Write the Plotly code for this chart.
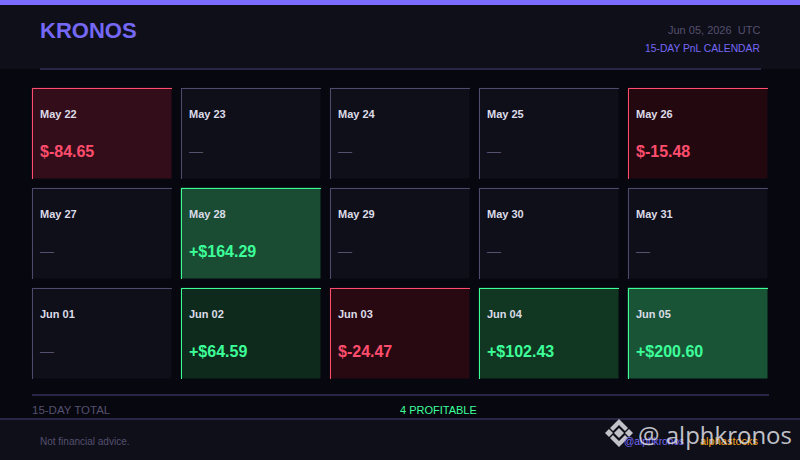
import plotly.graph_objects as go

# calendar grid
dates = [
    ["May 22", "May 23", "May 24", "May 25", "May 26"],
    ["May 27", "May 28", "May 29", "May 30", "May 31"],
    ["Jun 01", "Jun 02", "Jun 03", "Jun 04", "Jun 05"],
]
# 0 means no trades that day
pnl = [
    [-84.65, 0, 0, 0, -15.48],
    [0, 164.29, 0, 0, 0],
    [0, 64.59, -24.47, 102.43, 200.60],
]
columns = [0, 1, 2, 3, 4]
rows = [0, 1, 2]

BG = "#07070f"
PANEL = "#0f0f1a"
RULE = "#2a2545"
PURPLE = "#7468f5"
GREEN = "#3dff9a"
RED = "#ff4d6d"
MUTED = "#55506e"
FONT = "Liberation Sans"

# cell colour at each value, strongest loss to strongest win
scale_values = [-84.65, -24.47, -15.48, 0, 64.59, 102.43, 164.29, 200.60]
scale_colors = ["#340d1a", "#280912", "#230810", PANEL, "#0e2a1c", "#113621", "#194c33", "#195437"]
zmin, zmax = scale_values[0], scale_values[-1]
colorscale = [[(v - zmin) / (zmax - zmin), c] for v, c in zip(scale_values, scale_colors)]

# pixel layout of the grid
GRID_X0, GRID_Y0 = 27.5, 83.5
STEP_X, STEP_Y = 149, 100
W, H = 800, 460

fig = go.Figure()
fig.add_trace(go.Heatmap(
    x=columns, y=rows, z=pnl, zmin=zmin, zmax=zmax, colorscale=colorscale,
    xgap=9, ygap=9, showscale=False, hoverinfo="skip",
    xaxis="x", yaxis="y",
))

shapes = []


def rect(x0, y0, x1, y1, color, layer="below"):
    shapes.append(dict(type="rect", xref="x2", yref="y2", x0=x0, y0=y0, x1=x1, y1=y1,
                       fillcolor=color, line_width=0, layer=layer))


def poly(points, color):
    path = "M" + " L".join(f"{x},{y}" for x, y in points) + " Z"
    shapes.append(dict(type="path", xref="x2", yref="y2", path=path, fillcolor=color,
                       line_width=0, layer="above"))


rect(0, 0, W, 69, PANEL)
rect(0, 0, W, 5, "#7b6cff")
rect(40, 68, 761, 70, RULE)
rect(32, 394, 769, 396, RULE)
rect(0, 419, W, H, PANEL)
rect(0, 418, W, 420, RULE)

annotations = []


def label(x, y, text, size, color, anchor="left", bold=False, family=FONT):
    annotations.append(dict(
        x=x, y=y, xref="x2", yref="y2", text=f"<b>{text}</b>" if bold else text,
        showarrow=False, xanchor=anchor, yanchor="middle",
        borderpad=0, borderwidth=0,
        font=dict(family=family, size=size, color=color),
    ))


for r in rows:
    for c in columns:
        v = pnl[r][c]
        border = GREEN if v > 0 else RED if v < 0 else "#4f4a6b"
        left = GRID_X0 + c * STEP_X + 4.5
        top = GRID_Y0 + r * STEP_Y + 4.5
        rect(left, top, left + 140, top + 1, border, "above")
        rect(left, top, left + 1, top + 91, border, "above")
        label(left + 8, top + 26, dates[r][c], 11, "#dcdce8", bold=True)
        if v > 0:
            label(left + 8, top + 63.5, f"+${v:.2f}", 16, GREEN, bold=True)
        elif v < 0:
            label(left + 8, top + 63.5, f"$-{abs(v):.2f}", 16, RED, bold=True)
        else:
            label(left + 8, top + 63, "—", 14, MUTED)

label(40, 30, "KRONOS", 22, PURPLE, bold=True)
label(760, 30, "Jun 05, 2026  UTC", 11, MUTED, anchor="right")
label(760, 48, "15-DAY PnL CALENDAR", 10.3, PURPLE, anchor="right")
label(32, 410, "15-DAY TOTAL", 11.5, MUTED)
label(400, 410, "4 PROFITABLE", 11, GREEN)
label(40, 441, "Not financial advice.", 10, MUTED)
label(624, 441, "@alphkronos", 10.2, PURPLE)
label(700, 441, "alphastocks", 11, "#f5a623")

# watermark on top of the footer
WM = "rgba(225,225,232,0.85)"
label(638, 434, "@ alphkronos", 24, WM, family="Open Sans")
cx, cy = 619, 433
poly([(cx, cy - 5), (cx + 5, cy), (cx, cy + 5), (cx - 5, cy)], WM)
poly([(cx - 14, cy), (cx - 10, cy - 4), (cx - 6, cy), (cx - 10, cy + 4)], WM)
poly([(cx + 14, cy), (cx + 10, cy - 4), (cx + 6, cy), (cx + 10, cy + 4)], WM)
poly([(cx, cy - 14), (cx + 9, cy - 5), (cx + 6, cy - 2), (cx, cy - 8), (cx - 6, cy - 2), (cx - 9, cy - 5)], WM)
poly([(cx, cy + 14), (cx + 9, cy + 5), (cx + 6, cy + 2), (cx, cy + 8), (cx - 6, cy + 2), (cx - 9, cy + 5)], WM)

hidden = dict(showgrid=False, zeroline=False, showticklabels=False, ticks="", showline=False)
fig.update_layout(
    width=W, height=H,
    margin=dict(l=0, r=0, t=0, b=0),
    paper_bgcolor=BG, plot_bgcolor="rgba(0,0,0,0)",
    showlegend=False,
    shapes=shapes, annotations=annotations,
    xaxis=dict(domain=[GRID_X0 / W, (GRID_X0 + 5 * STEP_X) / W], range=[-0.5, 4.5], anchor="y", **hidden),
    yaxis=dict(domain=[1 - (GRID_Y0 + 3 * STEP_Y) / H, 1 - GRID_Y0 / H], range=[2.5, -0.5], anchor="x", **hidden),
    xaxis2=dict(domain=[0, 1], range=[0, W], anchor="y2", **hidden),
    yaxis2=dict(domain=[0, 1], range=[H, 0], anchor="x2", **hidden),
)
fig.add_trace(go.Scatter(x=[None], y=[None], xaxis="x2", yaxis="y2", hoverinfo="skip"))

fig.write_html("out.html", post_script="document.body.style.margin='0';", config=dict(displayModeBar=False))
